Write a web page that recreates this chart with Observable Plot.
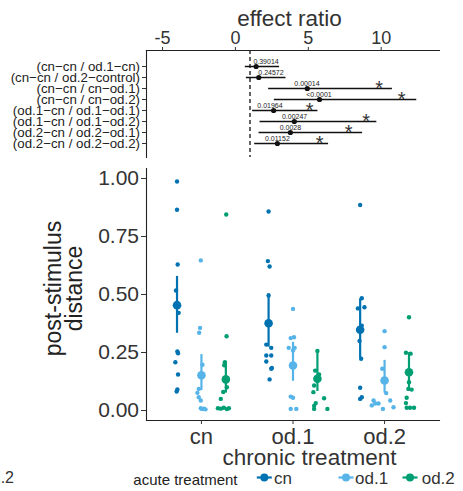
<!DOCTYPE html>
<html><head><meta charset="utf-8">
<script src="https://cdn.jsdelivr.net/npm/d3@7"></script>
<script src="https://cdn.jsdelivr.net/npm/@observablehq/plot@0.6"></script>
<style>
body{margin:0;background:#fff;}
#fig{position:relative;width:463px;height:491px;overflow:hidden;font-family:"Liberation Sans",Arial,sans-serif;background:#fff;}
#fig > *{position:absolute;left:0;}
</style></head><body><div id="fig"></div>
<script>
// ---------- top panel: effect ratios ----------
const comparisons = ["(cn−cn / od.1−cn)", "(cn−cn / od.2−control)", "(cn−cn / cn−od.1)", "(cn−cn / cn−od.2)",
  "(od.1−cn / od.1−od.1)", "(od.1−cn / od.1−od.2)", "(od.2−cn / od.2−od.1)", "(od.2−cn / od.2−od.2)"];
const ratio = [1.42, 1.60, 4.93, 5.77, 2.62, 4.04, 3.77, 2.88];
const ratioLower = [0.68, 0.75, 2.28, 2.67, 1.18, 1.69, 1.62, 1.32];
const ratioUpper = [3.03, 3.47, 10.77, 12.44, 5.66, 9.70, 8.72, 6.39];
const pValues = ["0.39014", "0.24572", "0.00014", "<0.0001", "0.01964", "0.00247", "0.0028", "0.01152"];
const pLabelAt = [2.10, 2.44, 4.91, 5.73, 2.37, 4.06, 3.77, 2.88];
const starAt = [null, null, 9.86, 11.40, 5.10, 8.97, 7.76, 5.77];
const effectTicks = [-5, 0, 5, 10];

// ---------- bottom panel: post-stimulus distance ----------
const chronic = ["cn", "od.1", "od.2"];
const acute = ["cn", "od.1", "od.2"];
const acuteColors = ["#0072B2", "#56B4E9", "#009E73"];
const distanceTicks = [0, 0.25, 0.5, 0.75, 1];

// raw observations (chronic-acute) and their small horizontal jitter (category units)
const cnCn = [0.987, 0.865, 0.629, 0.517, 0.421, 0.254, 0.247, 0.208, 0.155, 0.091, 0.082];
const cnCnJit = [0, 0, 0.007, -0.011, 0.018, 0.004, 0.011, -0.018, 0.011, 0.004, -0.004];
const cnOd1 = [0.647, 0.356, 0.335, 0.197, 0.093, 0.076, 0.057, 0.043, 0.010, 0.006, 0.008, 0.005];
const cnOd1Jit = [-0.007, -0.015, -0.025, 0.011, -0.029, -0.044, -0.029, -0.007, -0.007, 0.007, 0.029, 0.044];
const cnOd2 = [0.845, 0.320, 0.208, 0.195, 0.100, 0.080, 0.050, 0.010, 0.008, 0.012, 0.006, 0.010];
const cnOd2Jit = [0.004, 0.008, -0.011, -0.018, 0.011, -0.029, -0.055, -0.087, -0.055, -0.022, 0.011, 0.033];
const od1Cn = [0.858, 0.644, 0.621, 0.496, 0.284, 0.270, 0.237, 0.237, 0.211, 0.183, 0.180, 0.134];
const od1CnJit = [0, -0.008, 0.011, 0, -0.025, 0.029, -0.025, 0.029, -0.025, 0.036, 0.029, 0.011];
const od1Od1 = [0.438, 0.312, 0.316, 0.270, 0.270, 0.259, 0.060, 0.055, 0.007, 0.007];
const od1Od1Jit = [0, -0.025, 0.011, -0.047, 0.018, 0, -0.025, 0, -0.025, 0.036];
const od1Od2 = [0.257, 0.172, 0.155, 0.108, 0.079, 0.053, 0.032, 0.020, 0.007, 0.007];
const od1Od2Jit = [0, -0.025, 0.018, -0.036, -0.044, 0.073, -0.018, -0.036, -0.036, 0.109];
const od2Cn = [0.886, 0.484, 0.445, 0.440, 0.366, 0.300, 0.223, 0.098, 0.057, 0.050];
const od2CnJit = [0, 0.018, 0.047, -0.025, 0.018, -0.007, 0.011, 0, 0.018, 0];
const od2Od1 = [0.342, 0.273, 0.180, 0.075, 0.043, 0.043, 0.030, 0.030, 0.022, 0.014, 0.007];
const od2Od1Jit = [0, 0, -0.025, 0.018, -0.120, 0.062, -0.102, -0.066, -0.139, 0.098, -0.018];
const od2Od2 = [0.402, 0.249, 0.245, 0.122, 0.093, 0.090, 0.055, 0.032, 0.012, 0.012, 0.012];
const od2Od2Jit = [0, -0.033, 0.018, 0, -0.007, 0.029, -0.025, -0.033, -0.025, 0.011, 0.055];

// group estimates (order: chronic cn [cn, od.1, od.2], od.1 [...], od.2 [...])
const groupMean = [0.454, 0.152, 0.134, 0.376, 0.194, 0.137, 0.348, 0.129, 0.165];
const groupLower = [0.333, 0.086, 0.075, 0.273, 0.126, 0.082, 0.225, 0.075, 0.085];
const groupUpper = [0.578, 0.241, 0.211, 0.503, 0.294, 0.257, 0.481, 0.216, 0.249];

// ---------- build tables ----------
const rows = comparisons.map((c, i) => ({comparison: c, ratio: ratio[i], lower: ratioLower[i], upper: ratioUpper[i],
  p: pValues[i], labelX: pLabelAt[i], star: starAt[i]}));

const rawGroups = [
  [cnCn, cnCnJit], [cnOd1, cnOd1Jit], [cnOd2, cnOd2Jit],
  [od1Cn, od1CnJit], [od1Od1, od1Od1Jit], [od1Od2, od1Od2Jit],
  [od2Cn, od2CnJit], [od2Od1, od2Od1Jit], [od2Od2, od2Od2Jit]
];
const dodgeWidth = 0.8;
const pos = (ci, ai) => ci + 1 + (ai - 1) * dodgeWidth / 3;
const points = [];
rawGroups.forEach(([vals, jit], g) => {
  const ci = Math.floor(g / 3), ai = g % 3;
  vals.forEach((v, k) => points.push({chronic: chronic[ci], acute: acute[ai], value: v, x: pos(ci, ai) + jit[k]}));
});
const summary = groupMean.map((m, g) => {
  const ci = Math.floor(g / 3), ai = g % 3;
  return {chronic: chronic[ci], acute: acute[ai], mean: m, lo: groupLower[g], hi: groupUpper[g], x: pos(ci, ai)};
});

const FONT = "'Liberation Sans', Arial, sans-serif";
const fig = document.getElementById("fig");

// ---------- top plot ----------
const topPlot = Plot.plot({
  width: 463, height: 162,
  marginLeft: 146, marginRight: 24, marginTop: 50, marginBottom: 5,
  style: {fontFamily: FONT, background: "transparent", color: "#333", overflow: "visible"},
  x: {domain: [-6.1, 14.0]},
  y: {type: "point", domain: comparisons, range: [58.3, 150.2]},
  marks: [
    Plot.frame({anchor: "top", stroke: "#222", strokeWidth: 1.1}),
    Plot.frame({anchor: "left", stroke: "#222", strokeWidth: 1.1}),
    Plot.axisX({anchor: "top", ticks: effectTicks, tickFormat: d => String(d), tickSize: 4, tickPadding: 2.5, fontSize: 18, label: null}),
    Plot.axisY({tickSize: 4, tickPadding: 2.5, fontSize: 13.3, label: null, fill: "#222"}),
    Plot.ruleX([1], {stroke: "#222", strokeWidth: 1.4, strokeDasharray: "4,3"}),
    Plot.ruleY(rows, {y: "comparison", x1: "lower", x2: "upper", stroke: "#111", strokeWidth: 1.3}),
    Plot.dot(rows, {y: "comparison", x: "ratio", r: 2.6, fill: "#111"}),
    Plot.text(rows, {y: "comparison", x: "labelX", text: "p", fontSize: 7, lineAnchor: "bottom", dy: -2.5, fill: "#222"}),
    Plot.text(rows.filter(d => d.star != null), {y: "comparison", x: "star", text: () => "*", fontSize: 20, lineAnchor: "bottom", dy: 6, fill: "#333"}),
    Plot.text(["effect ratio"], {frameAnchor: "top", textAnchor: "middle", dx: -3.5, dy: -25, lineAnchor: "bottom", fontSize: 22.5, fill: "#333"})
  ]
});
topPlot.style.top = "0px";
fig.appendChild(topPlot);

// ---------- bottom plot ----------
const bottomPlot = Plot.plot({
  width: 463, height: 310,
  marginLeft: 146, marginRight: 24, marginTop: 8, marginBottom: 50,
  style: {fontFamily: FONT, background: "transparent", color: "#333", overflow: "visible"},
  x: {domain: [0.4, 3.6]},
  y: {domain: [-0.0431, 1.0431]},
  color: {domain: acute, range: acuteColors},
  marks: [
    Plot.frame({anchor: "left", stroke: "#222", strokeWidth: 1.1}),
    Plot.frame({anchor: "bottom", stroke: "#222", strokeWidth: 1.1}),
    Plot.axisY({ticks: distanceTicks, tickFormat: d3.format(".2f"), tickSize: 5, tickPadding: 2.5, fontSize: 21, label: null}),
    Plot.axisX({ticks: [1, 2, 3], tickFormat: i => chronic[i - 1], tickSize: 4, tickPadding: 3.5, fontSize: 22, label: null}),
    Plot.dot(points, {x: "x", y: "value", r: 2.2, fill: "acute"}),
    Plot.ruleX(summary, {x: "x", y1: "lo", y2: "hi", stroke: "acute", strokeWidth: 2.2}),
    Plot.dot(summary, {x: "x", y: "mean", r: 4.3, fill: "acute"}),
    Plot.text(["post-stimulus\ndistance"], {frameAnchor: "left", textAnchor: "middle", rotate: -90, dx: -82, dy: -6, fontSize: 23, lineHeight: 0.92, lineAnchor: "middle", fill: "#222"}),
    Plot.text(["chronic treatment"], {frameAnchor: "bottom", textAnchor: "middle", dx: 16.5, dy: 44.3, lineAnchor: "bottom", fontSize: 22.5, fill: "#333"})
  ]
});
bottomPlot.style.top = "160px";
fig.appendChild(bottomPlot);

// ---------- legend (below) ----------
const leg = d3.create("svg").attr("width", 463).attr("height", 29).style("top", "462px").style("font-family", FONT);
leg.append("text").attr("x", 133.3).attr("y", 22.7).attr("font-size", 15).attr("fill", "#222").text("acute treatment");
const keyX = [264.3, 346, 410];
const labX = [274, 355, 421.7];
acute.forEach((a, i) => {
  leg.append("line").attr("x1", keyX[i] - 7.5).attr("x2", keyX[i] + 7.5).attr("y1", 15.5).attr("y2", 15.5)
    .attr("stroke", acuteColors[i]).attr("stroke-width", 2.2);
  leg.append("circle").attr("cx", keyX[i]).attr("cy", 15.5).attr("r", 4).attr("fill", acuteColors[i]);
  leg.append("text").attr("x", labX[i]).attr("y", 21.5).attr("font-size", 17).attr("fill", "#333").text(a);
});
// clipped fragment of a neighbouring panel's legend
leg.append("text").attr("x", 14).attr("y", 21.3).attr("text-anchor", "end").attr("font-size", 16).attr("fill", "#333").text("od.2");
fig.appendChild(leg.node());
</script></body></html>
